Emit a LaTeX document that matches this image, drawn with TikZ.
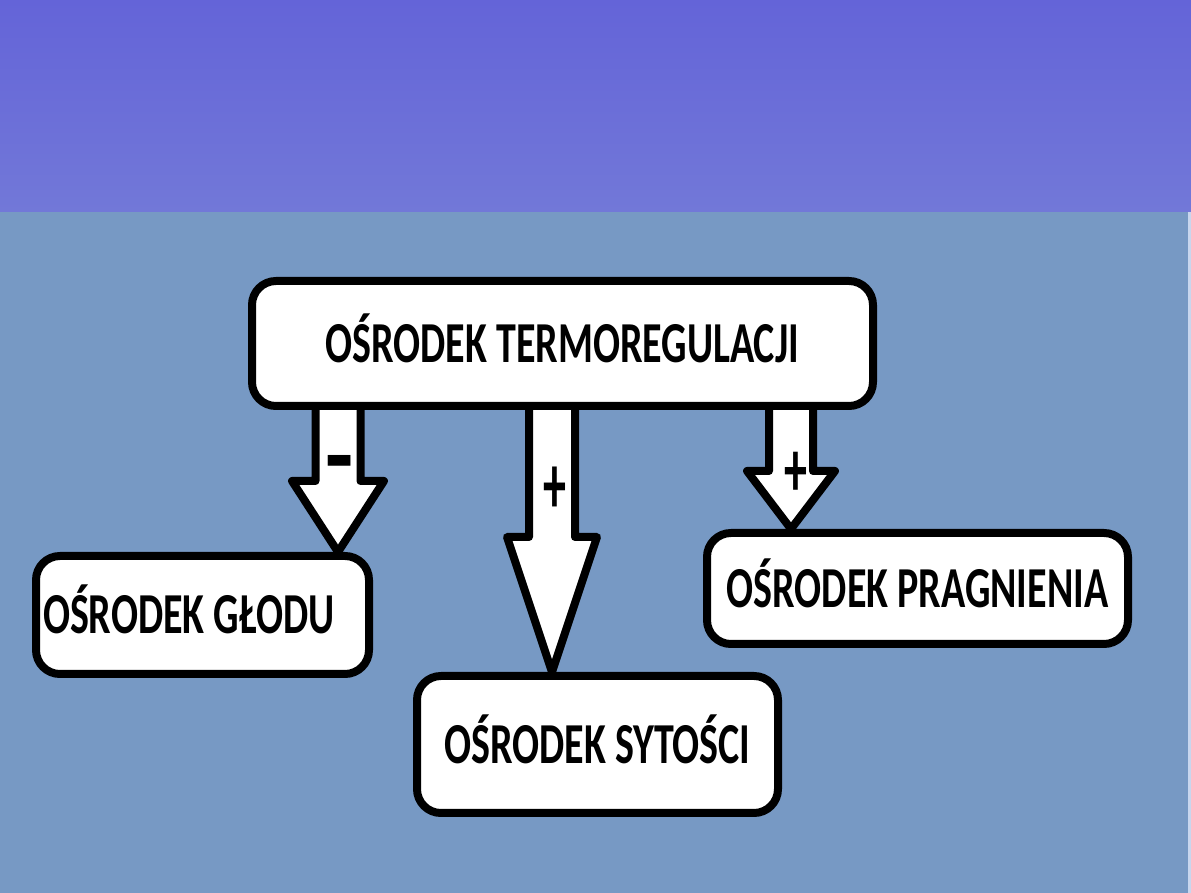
\documentclass[tikz,border=0pt]{standalone}
\usepackage{fontspec}
\setmainfont{Carlito}
\usepackage{graphicx}
\usetikzlibrary{calc, backgrounds}

\definecolor{bandtop}{HTML}{6464D8}
\definecolor{bandbot}{HTML}{7278D8}
\definecolor{field}{HTML}{7799C4}
\definecolor{edgestrip}{HTML}{C8D6EE}

\tikzset{
  centre box/.style={draw, line width=4pt, fill=white, rounded corners=12pt,
    inner sep=0pt, font=\bfseries\fontsize{20}{24}\selectfont,
    text height=18.7pt, text depth=0pt},
  block arrow/.style={draw, line width=4pt, fill=white, line join=round},
  sign/.style={inner sep=0pt, font=\bfseries\fontsize{20}{24}\selectfont}
}
\newcommand{\tallcaps}[1]{\scalebox{1}[1.45]{#1}}

\begin{document}
\begin{tikzpicture}[x=0.5pt,y=-0.5pt]
\useasboundingbox (0,0) rectangle (1191,893);

% osrodki
\node[centre box, minimum width=310.5pt, minimum height=62.5pt] (termo) at (562.5,343.5)
  {\tallcaps{OŚRODEK TERMOREGULACJI}};
\node[centre box, minimum width=166.5pt, minimum height=59pt] (glod) at (202.5,615)
  {\makebox[159.5pt][l]{\tallcaps{OŚRODEK GŁODU}}};
\node[centre box, minimum width=180.5pt, minimum height=68.5pt] (sytosc) at (597.5,744.5)
  {\tallcaps{OŚRODEK SYTOŚCI}};
\node[centre box, minimum width=210.5pt, minimum height=55.5pt] (pragn) at (917.5,588.5)
  {\tallcaps{OŚRODEK PRAGNIENIA}};

% szyjki strzalek
\coordinate (neck1) at (338,481);
\coordinate (neck2) at (552,537);
\coordinate (neck3) at (791,471);

\begin{pgfonlayer}{background}
  % tlo
  \fill[field] (0,212) rectangle (1191,893);
  \shade[top color=bandtop, bottom color=bandbot] (0,0) rectangle (1191,212);
  \fill[edgestrip] (1188,212) rectangle (1191,893);
  % strzalki
  \draw[block arrow] ($(termo.center -| neck1)+(-22.5,0)$) -- ($(neck1)+(-22.5,0)$)
    -- ($(neck1)+(-46,0)$) -- (glod.north -| neck1) -- ($(neck1)+(46,0)$)
    -- ($(neck1)+(22.5,0)$) -- ($(termo.center -| neck1)+(22.5,0)$);
  \draw[block arrow] ($(termo.center -| neck2)+(-23,0)$) -- ($(neck2)+(-23,0)$)
    -- ($(neck2)+(-45,0)$) -- (sytosc.north -| neck2) -- ($(neck2)+(45,0)$)
    -- ($(neck2)+(23,0)$) -- ($(termo.center -| neck2)+(23,0)$);
  \draw[block arrow] ($(termo.center -| neck3)+(-22,0)$) -- ($(neck3)+(-22,0)$)
    -- ($(neck3)+(-44,0)$) -- (pragn.north -| neck3) -- ($(neck3)+(44,0)$)
    -- ($(neck3)+(22,0)$) -- ($(termo.center -| neck3)+(22,0)$);
\end{pgfonlayer}

% znaki
\node[sign] (minus) at (339.5,473) {\scalebox{2.3}[2.6]{-}};
\node[sign] (plus1) at (555,490) {\scalebox{1.15}[2.1]{+}};
\node[sign] (plus2) at (796,474) {\scalebox{1.15}[2]{+}};
\end{tikzpicture}
\end{document}
